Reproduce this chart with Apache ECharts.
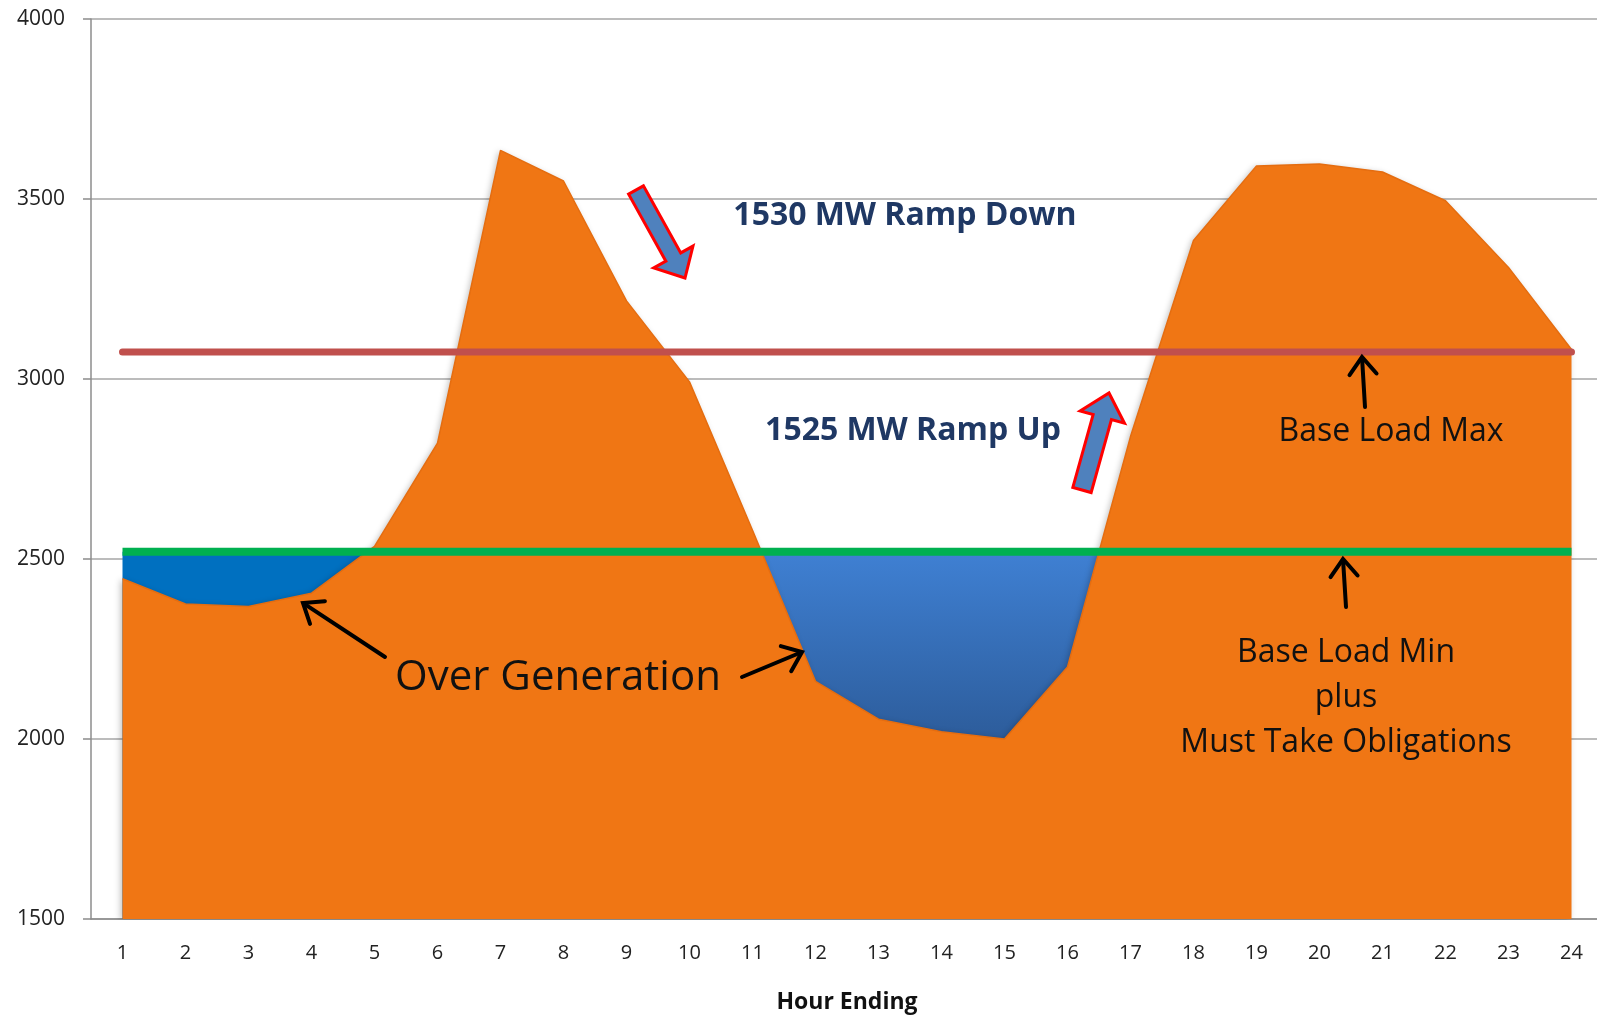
<!DOCTYPE html>
<html>
<head>
<meta charset="utf-8">
<script src="https://cdn.jsdelivr.net/npm/echarts@6/dist/echarts.min.js"></script>
<style>
html,body{margin:0;padding:0;background:#fff;overflow:hidden;}
#chart{width:1597px;height:1016px;}
</style>
</head>
<body>
<div id="chart"></div>
<script>
// ---- data ----
var hours = ['1','2','3','4','5','6','7','8','9','10','11','12','13','14','15','16','17','18','19','20','21','22','23','24'];
var load = [2445, 2375, 2368, 2405, 2535, 2822, 3635, 3550, 3217, 2992, 2580, 2160, 2055, 2020, 2000, 2200, 2840, 3385, 3592, 3597, 3575, 3495, 3310, 3082];
var baseLoadMin = 2520;   // Base Load Min plus Must Take Obligations
var baseLoadMax = 3075;   // Base Load Max
var overGenHoursA = ['1','2','3','4','5'];
var overGenHoursB = ['11','12','13','14','15','16','17'];
var yTicks = [1500, 2000, 2500, 3000, 3500, 4000];

// ---- build series data ----
function constLine(v){ return hours.map(function(){ return v; }); }
function constOn(list, v){ return hours.map(function(h){ return list.indexOf(h) >= 0 ? v : '-'; }); }

// ---- annotation helpers (pixel space decorations) ----
function blockArrow(tail, tip, bodyW, headW, headL){
  var dx = tip[0]-tail[0], dy = tip[1]-tail[1];
  var L = Math.sqrt(dx*dx+dy*dy); var ux = dx/L, uy = dy/L; var nx = -uy, ny = ux;
  var neck = [tip[0]-ux*headL, tip[1]-uy*headL];
  function p(b, s){ return [b[0]+nx*s, b[1]+ny*s]; }
  return {
    type:'polygon', z:100,
    shape:{points:[p(tail,bodyW/2), p(neck,bodyW/2), p(neck,headW/2), tip, p(neck,-headW/2), p(neck,-bodyW/2), p(tail,-bodyW/2)]},
    style:{fill:'#4F81BD', stroke:'#FF0000', lineWidth:3, lineJoin:'miter'}
  };
}
function lineArrow(from, tip, wing){
  var dx = tip[0]-from[0], dy = tip[1]-from[1];
  var L = Math.sqrt(dx*dx+dy*dy); var ux = dx/L, uy = dy/L;
  var a = 38*Math.PI/180, c = Math.cos(a), s = Math.sin(a);
  var w1 = [tip[0] - wing*(ux*c - uy*s), tip[1] - wing*(uy*c + ux*s)];
  var w2 = [tip[0] - wing*(ux*c + uy*s), tip[1] - wing*(uy*c - ux*s)];
  return [
    {type:'line', z:100, shape:{x1:from[0], y1:from[1], x2:tip[0]-ux*2, y2:tip[1]-uy*2}, style:{stroke:'#000', lineWidth:4, lineCap:'round'}},
    {type:'polyline', z:100, shape:{points:[w1, tip, w2]}, style:{stroke:'#000', lineWidth:4, fill:null, lineJoin:'miter', lineCap:'round'}}
  ];
}
function label(text, x, y, font, color, lh){
  return {type:'text', z:101, x:x, y:y, style:{text:text, font:font, fill:color, align:'center', verticalAlign:'middle', lineHeight:lh||undefined}};
}

var graphics = [
  blockArrow([636,190],[685,278],17,45,24),
  blockArrow([1082,490],[1109,393],19,46,25),
  label('1530 MW Ramp Down', 905, 216, 'bold 32px "Open Sans"', '#1F3864'),
  label('1525 MW Ramp Up', 913, 431, 'bold 32px "Open Sans"', '#1F3864'),
  label('Base Load Max', 1391, 432, '32px "Open Sans"', '#111'),
  label('Base Load Min\nplus\nMust Take Obligations', 1346, 698, '32px "Open Sans"', '#111', 45),
  label('Over Generation', 558, 678, '42px "Open Sans"', '#111')
].concat(
  lineArrow([385,657],[303,603],22),
  lineArrow([742,677],[802,652],22),
  lineArrow([1365,407],[1362,357],22),
  lineArrow([1346,607],[1343,559],22)
);

var chart = echarts.init(document.getElementById('chart'), null, {renderer:'canvas'});
var option = {
  animation:false,
  backgroundColor:'#fff',
  grid:{left:91, width:1512, top:19, bottom:97, containLabel:false, outerBoundsMode:'none'},
  xAxis:{
    type:'category', data:hours, boundaryGap:true,
    axisLine:{lineStyle:{color:'#8c8c8c', width:1.5}},
    axisTick:{length:8, lineStyle:{color:'#8c8c8c', width:1.5}},
    axisLabel:{margin:24, fontSize:20, color:'#222', fontFamily:'Open Sans'},
    name:'Hour Ending', nameLocation:'middle', nameGap:72,
    nameTextStyle:{fontSize:23, fontWeight:'bold', fontFamily:'Open Sans', color:'#111'}
  },
  yAxis:{
    type:'value', min:yTicks[0], max:yTicks[yTicks.length-1], interval:500,
    axisLine:{show:true, lineStyle:{color:'#8c8c8c', width:1.5}},
    axisTick:{show:true, length:8, lineStyle:{color:'#8c8c8c', width:1.5}},
    splitLine:{lineStyle:{color:'#a6a6a6', width:1.5}},
    axisLabel:{margin:26, fontSize:21, color:'#222', fontFamily:'Open Sans', formatter:function(v){ return String(v); }}
  },
  series:[
    {type:'line', name:'Over Generation A', data:constOn(overGenHoursA, baseLoadMin), symbol:'none', z:2,
     lineStyle:{width:0}, areaStyle:{color:'#0070C0', opacity:1}},
    {type:'line', name:'Over Generation B', data:constOn(overGenHoursB, baseLoadMin), symbol:'none', z:2,
     lineStyle:{width:0},
     areaStyle:{opacity:1, color:new echarts.graphic.LinearGradient(0,0,0,1,[
       {offset:0, color:'#3F80D3'},{offset:0.5, color:'#2D5D9C'},{offset:1, color:'#1F406F'}])}},
    {type:'line', name:'Load', data:load, symbol:'none', z:3,
     lineStyle:{color:'#E56D10', width:1.5},
     areaStyle:{color:'#F07614', opacity:1, shadowBlur:6, shadowColor:'rgba(0,0,0,0.25)', shadowOffsetX:-2, shadowOffsetY:1}},
    {type:'line', name:'Base Load Min', data:constLine(baseLoadMin), symbol:'none', z:4,
     lineStyle:{color:'#00B050', width:8, cap:'butt'}},
    {type:'line', name:'Base Load Max', data:constLine(baseLoadMax), symbol:'none', z:4,
     lineStyle:{color:'#C0504D', width:7, cap:'round'}}
  ],
  graphic:graphics
};
chart.setOption(option);
</script>
</body>
</html>
